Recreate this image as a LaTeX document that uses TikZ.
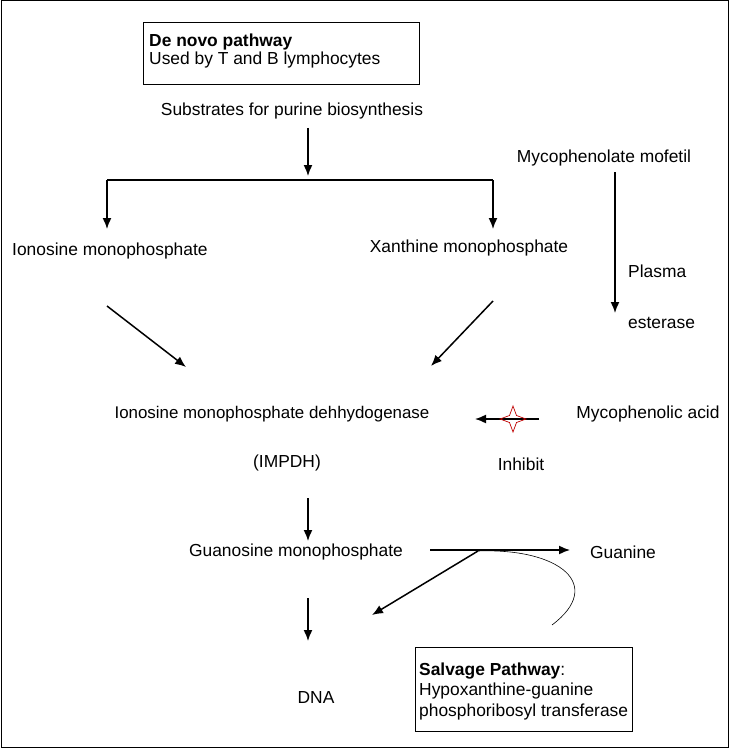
\documentclass[tikz,border=0pt]{standalone}
\usepackage{fontspec}
\setmainfont{Liberation Sans}
\usetikzlibrary{arrows.meta,calc}
\begin{document}
\begin{tikzpicture}[x=1pt,y=-1pt,
  txt/.style={font=\fontsize{17.4}{20}\selectfont, inner sep=0pt},
  arr/.style={line width=1.5pt, -{Latex[length=11pt,width=9pt]}},
  thin/.style={line width=0.6pt}]
\useasboundingbox (0,0) rectangle (730,749);
\draw[line width=1pt] (1,1) rectangle (728,747);
% top box
\draw[line width=0.8pt] (143,22) rectangle (419,84);
\node[txt, anchor=west] (denovo) at (149,42) {\textbf{De novo pathway}};
\node[txt, anchor=west] (used) at (149,60) {Used by T and B lymphocytes};
\node[txt] (subs) at (292,111) {Substrates for purine biosynthesis};
\node[txt, anchor=west] (imp) at (12,251) {Ionosine monophosphate};
\node[txt] (xmp) at (469,248) {Xanthine monophosphate};
\node[txt] (mmf) at (604,158) {Mycophenolate mofetil};
\node[txt, anchor=west] (plasma) at (628,271) {Plasma};
\node[txt, anchor=west] (esterase) at (628,323) {esterase};
\node[txt, font=\fontsize{16.9}{20}\selectfont] (impdh) at (272,414) {Ionosine monophosphate dehhydogenase};
\node[txt] (impdhab) at (287,463) {(IMPDH)};
\node[txt] (mpa) at (648,414) {Mycophenolic acid};
\node[txt] (inhibit) at (521,464) {Inhibit};
\node[txt] (gmp) at (296,552) {Guanosine monophosphate};
\node[txt] (guanine) at (623,552) {Guanine};
\node[txt] (dna) at (316,698) {DNA};
% salvage box
\draw[line width=0.8pt] (415,647) rectangle (632,731);
\node[txt, anchor=west] (salv1) at (419,671) {\textbf{Salvage Pathway}:};
\node[txt, anchor=west] (salv2) at (419,691) {Hypoxanthine-guanine};
\node[txt, anchor=west] (salv3) at (419,712) {phosphoribosyl transferase};
% coordinates
\coordinate (s1) at (308,128); \coordinate (s2) at (308,176);
\coordinate (hl) at (107,180); \coordinate (hr) at (493,180);
\coordinate (il) at (107,229); \coordinate (ir) at (493,229);
\coordinate (m1) at (615,172); \coordinate (m2) at (615,313);
\coordinate (d1) at (107,306); \coordinate (d2) at (186,367);
\coordinate (e1) at (493,301); \coordinate (e2) at (431,366);
\coordinate (a1) at (539,419); \coordinate (a2) at (475,419);
\coordinate (star) at (513,419);
\coordinate (g1) at (308,498); \coordinate (g2) at (308,541);
\coordinate (h1) at (430,550); \coordinate (h2) at (570,550);
\coordinate (j) at (478,551); \coordinate (j2) at (372,615);
\coordinate (k1) at (308,598); \coordinate (k2) at (308,641);
\coordinate (c1) at (552,625);
% connectors
\draw[arr] (s1) -- (s2);
\draw[line width=1.2pt] (hl) -- (hr);
\draw[arr] (hl) -- (il);
\draw[arr] (hr) -- (ir);
\draw[arr] (m1) -- (m2);
\draw[arr] (d1) -- (d2);
\draw[arr] (e1) -- (e2);
\draw[arr] (a1) -- (a2);
\draw[red!75!black, line width=0.7pt] ($(star)+(0,-13)$) -- ++(3.5,9.5) -- ++(9.5,3.5) -- ++(-9.5,3.5) -- ++(-3.5,9.5) -- ++(-3.5,-9.5) -- ++(-9.5,-3.5) -- ++(9.5,-3.5) -- cycle;
\draw[arr] (g1) -- (g2);
\draw[arr] (h1) -- (h2);
\draw[arr] (j) -- (j2);
\draw[thin] (j) .. controls (560,548) and (605,585) .. (c1);
\draw[arr] (k1) -- (k2);
\end{tikzpicture}
\end{document}
